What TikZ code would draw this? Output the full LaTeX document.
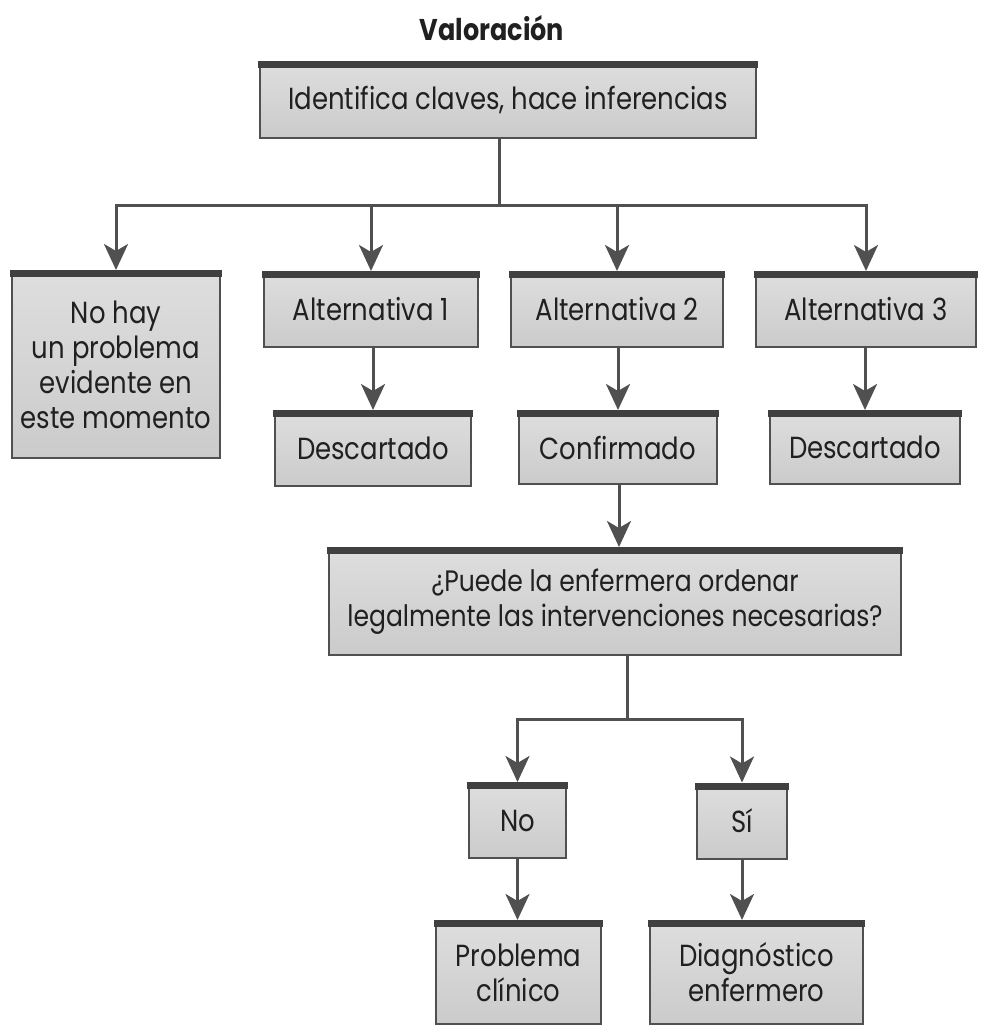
\documentclass[tikz,border=0pt]{standalone}
\usepackage{fontspec}
\setmainfont[FakeStretch=0.85]{Poppins}
\usetikzlibrary{arrows.meta}
\definecolor{linegray}{HTML}{505050}
\definecolor{bargray}{HTML}{404040}
\definecolor{boxtop}{HTML}{DEDEDE}
\definecolor{boxbot}{HTML}{CBCBCB}
\definecolor{ink}{HTML}{202020}
\begin{document}
\begin{tikzpicture}[x=1pt,y=-1pt,
  box/.style={rectangle, draw=linegray, line width=2pt, top color=boxtop,
    bottom color=boxbot, align=center, inner sep=0pt, text=ink,
    font=\fontsize{30.5}{35}\selectfont},
  link/.style={draw=linegray, line width=3pt},
  arr/.style={link, -{Stealth[length=26pt,width=24pt,inset=7pt]}},
  topbar/.style={draw=bargray, line width=7pt}]
\useasboundingbox (0,0) rectangle (980,1027);

% title
\node[text=ink, font=\bfseries\fontsize{30}{35}\selectfont] (title) at (492,28) {Valoración};

% boxes
\node[box, minimum width=496pt, minimum height=76pt] (top) at (508,100) {Identifica claves, hace inferencias};
\node[box, minimum width=208pt, minimum height=187pt] (nohay) at (116,364.5) {No hay\\un problema\\evidente en\\este momento};
\node[box, minimum width=214pt, minimum height=75pt] (alt1) at (371,309.5) {Alternativa 1};
\node[box, minimum width=196pt, minimum height=75pt] (desc1) at (373,448.5) {Descartado};
\node[box, minimum width=212pt, minimum height=75pt] (alt2) at (617,309.5) {Alternativa 2};
\node[box, minimum width=198pt, minimum height=73pt] (conf) at (618,447.5) {Confirmado};
\node[box, minimum width=220pt, minimum height=75pt] (alt3) at (866,309.5) {Alternativa 3};
\node[box, minimum width=190pt, minimum height=73pt] (desc3) at (865,447.5) {Descartado};
\node[box, minimum width=572pt, minimum height=107pt, font=\fontsize{29.5}{35}\selectfont] (quest) at (615,601.5) {¿Puede la enfermera ordenar\\legalmente las intervenciones necesarias?};
\node[box, minimum width=97pt, minimum height=75pt] (no) at (517.5,820.5) {No};
\node[box, minimum width=90pt, minimum height=75pt] (si) at (742,821) {Sí};
\node[box, minimum width=165pt, minimum height=103pt] (prob) at (518.5,972.5) {Problema\\clínico};
\node[box, minimum width=213pt, minimum height=103pt] (diag) at (756.5,972.5) {Diagnóstico\\enfermero};

% thick bar along the top edge of every box
\foreach \n in {top,nohay,alt1,desc1,alt2,conf,alt3,desc3,quest,no,si,prob,diag}
  \draw[topbar] ([xshift=-1pt,yshift=-3.5pt]\n.north west) -- ([xshift=1pt,yshift=-3.5pt]\n.north east);

% junction points of the branching connectors
\coordinate (j1) at (499,205);
\coordinate (j2) at (627,719);

% first level
\draw[link] (top.south -| j1) -- (j1);
\draw[arr] (j1) -| (nohay.north);
\draw[arr] (j1) -| (alt1.north);
\draw[arr] (j1) -| (alt2.north);
\draw[arr] (j1) -| (alt3.north);

% alternatives to their outcome
\draw[arr] (alt1.south -| desc1.north) -- (desc1.north);
\draw[arr] (alt2.south -| conf.north) -- (conf.north);
\draw[arr] (alt3.south -| desc3.north) -- (desc3.north);

% confirmed alternative to the question
\draw[arr] ([xshift=1pt]conf.south) -- ([xshift=1pt]conf.south |- quest.north);

% question branches
\draw[link] (quest.south -| j2) -- (j2);
\draw[arr] (j2) -| (no.north);
\draw[arr] (j2) -| (si.north);

% answers to results
\draw[arr] (no.south) -- (no.south |- prob.north);
\draw[arr] (si.south) -- (si.south |- diag.north);
\end{tikzpicture}
\end{document}
